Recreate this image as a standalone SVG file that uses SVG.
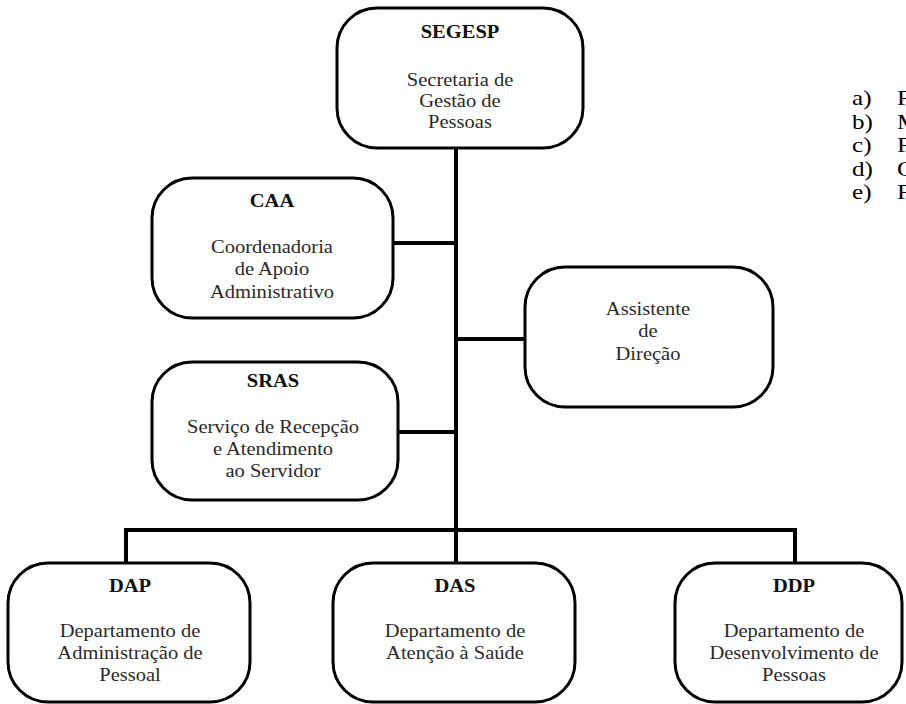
<svg xmlns="http://www.w3.org/2000/svg" width="906" height="704" viewBox="0 0 906 704">
<style>
.box{fill:#fff;stroke:#000;stroke-width:3}
.t{font-family:"Liberation Serif","Times New Roman",serif;font-size:18px;font-weight:bold;fill:#111;text-anchor:middle}
.b{font-family:"Liberation Serif","Times New Roman",serif;font-size:18px;fill:#2a2a2a;text-anchor:middle}
.l{font-family:"Liberation Serif","Times New Roman",serif;font-size:22px;fill:#000}
.c{fill:none;stroke:#000;stroke-width:4}
</style>
<rect width="906" height="704" fill="#fff"/>
<g id="connectors">
<path class="c" d="M456 148 V563"/>
<path class="c" d="M393 243 H456"/>
<path class="c" d="M456 339 H525"/>
<path class="c" d="M398 432 H456"/>
<path class="c" d="M124 530 H797"/>
<path class="c" d="M126 530 V563"/>
<path class="c" d="M795 530 V563"/>
</g>
<g id="segesp">
<rect class="box" x="337" y="8" width="246" height="140" rx="40"/>
<text class="t" transform="translate(460 38) scale(1.14 1)">SEGESP</text>
<text class="b" transform="translate(460 86) scale(1.14 1)">Secretaria de</text>
<text class="b" transform="translate(460 107) scale(1.14 1)">Gestão de</text>
<text class="b" transform="translate(460 128) scale(1.14 1)">Pessoas</text>
</g>
<g id="caa">
<rect class="box" x="152" y="178" width="241" height="140" rx="40"/>
<text class="t" transform="translate(272 207) scale(1.14 1)">CAA</text>
<text class="b" transform="translate(272 253) scale(1.14 1)">Coordenadoria</text>
<text class="b" transform="translate(272 275) scale(1.14 1)">de Apoio</text>
<text class="b" transform="translate(272 298) scale(1.14 1)">Administrativo</text>
</g>
<g id="assistente">
<rect class="box" x="525" y="267" width="248" height="140" rx="40"/>
<text class="b" transform="translate(648 315) scale(1.14 1)">Assistente</text>
<text class="b" transform="translate(648 337) scale(1.14 1)">de</text>
<text class="b" transform="translate(648 360) scale(1.14 1)">Direção</text>
</g>
<g id="sras">
<rect class="box" x="152" y="362" width="246" height="138" rx="40"/>
<text class="t" transform="translate(273 387) scale(1.14 1)">SRAS</text>
<text class="b" transform="translate(273 433) scale(1.14 1)">Serviço de Recepção</text>
<text class="b" transform="translate(273 455) scale(1.14 1)">e Atendimento</text>
<text class="b" transform="translate(273 477) scale(1.14 1)">ao Servidor</text>
</g>
<g id="dap">
<rect class="box" x="8" y="563" width="242" height="139" rx="40"/>
<text class="t" transform="translate(130 592) scale(1.14 1)">DAP</text>
<text class="b" transform="translate(130 637) scale(1.14 1)">Departamento de</text>
<text class="b" transform="translate(130 659) scale(1.14 1)">Administração de</text>
<text class="b" transform="translate(130 681) scale(1.14 1)">Pessoal</text>
</g>
<g id="das">
<rect class="box" x="333" y="563" width="242" height="139" rx="40"/>
<text class="t" transform="translate(455 592) scale(1.14 1)">DAS</text>
<text class="b" transform="translate(455 637) scale(1.14 1)">Departamento de</text>
<text class="b" transform="translate(455 659) scale(1.14 1)">Atenção à Saúde</text>
</g>
<g id="ddp">
<rect class="box" x="675" y="563" width="227" height="139" rx="40"/>
<text class="t" transform="translate(794 592) scale(1.14 1)">DDP</text>
<text class="b" transform="translate(794 637) scale(1.14 1)">Departamento de</text>
<text class="b" transform="translate(794 659) scale(1.14 1)">Desenvolvimento de</text>
<text class="b" transform="translate(794 681) scale(1.14 1)">Pessoas</text>
</g>
<g id="list">
<text class="l" transform="translate(852 105) scale(1.14 1)">a)</text><text class="l" transform="translate(897 105) scale(1.14 1)">F</text>
<text class="l" transform="translate(852 128.5) scale(1.14 1)">b)</text><text class="l" transform="translate(897 128.5) scale(1.14 1)">M</text>
<text class="l" transform="translate(852 152) scale(1.14 1)">c)</text><text class="l" transform="translate(897 152) scale(1.14 1)">F</text>
<text class="l" transform="translate(852 175.5) scale(1.14 1)">d)</text><text class="l" transform="translate(897 175.5) scale(1.14 1)">C</text>
<text class="l" transform="translate(852 199) scale(1.14 1)">e)</text><text class="l" transform="translate(897 199) scale(1.14 1)">F</text>
</g>
</svg>
